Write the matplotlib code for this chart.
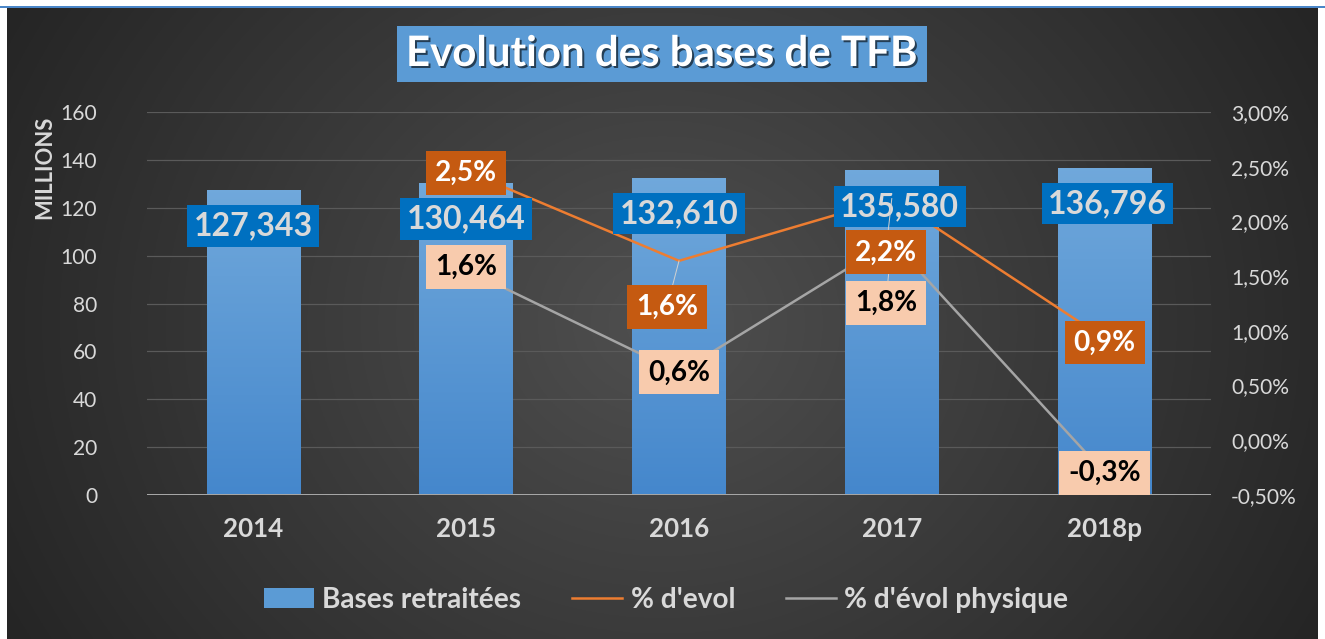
import numpy as np
import matplotlib.pyplot as plt
import matplotlib.patheffects as pe
from matplotlib.ticker import FuncFormatter, MultipleLocator
from matplotlib.patches import Patch
from matplotlib.lines import Line2D

plt.rcParams['font.family'] = ['Lato', 'DejaVu Sans']

# donnees
years = ['2014', '2015', '2016', '2017', '2018p']
bases = [127343, 130464, 132610, 135580, 136796]      # en milliers
evol = [np.nan, 2.46, 1.64, 2.21, 0.93]               # % d'evol
evol_phys = [np.nan, 1.56, 0.62, 1.82, -0.30]         # % d'evol physique

W, H = 1325, 639
fig = plt.figure(figsize=(W / 72, H / 72), dpi=72, facecolor='white')

# fond sombre en degrade radial
bg = fig.add_axes([7 / W, 0, (1318 - 7) / W, (H - 7) / H])
bg.set_axis_off()
yy, xx = np.mgrid[-1:1:320j, -1:1:660j]
r = np.sqrt(xx ** 2 + (yy * 0.55) ** 2)
c = np.clip(0.31 - 0.145 * r, 0.14, 0.35)
bg.imshow(np.dstack([c, c, c]), aspect='auto', extent=[0, 1, 0, 1])
bg.set_xlim(0, 1)
bg.set_ylim(0, 1)
fig.add_artist(Line2D([0, 1], [1 - 6.5 / H, 1 - 6.5 / H], color='#4a86c8', lw=2))

ax = fig.add_axes([147 / W, 144 / H, (1211 - 147) / W, (495 - 112) / H])
ax.set_facecolor('none')
ax2 = ax.twinx()

x = np.arange(len(years))
vals = np.array(bases) / 1000
bars = ax.bar(x, vals, width=0.44, color='#5b9bd5', zorder=2)

# degrade sur les barres
grad = np.linspace(0, 1, 256).reshape(-1, 1)
top = np.array([0.44, 0.66, 0.86])
bot = np.array([0.27, 0.53, 0.80])
img = bot + (top - bot) * grad[..., None]
for b in bars:
    im = ax.imshow(img.reshape(256, 1, 3), extent=[b.get_x(), b.get_x() + b.get_width(), 0, b.get_height()],
                   aspect='auto', origin='lower', zorder=2)
    im.set_clip_path(b)

ax.set_xlim(-0.5, len(years) - 0.5)
ax.set_ylim(0, 160)
ax.yaxis.set_major_locator(MultipleLocator(20))
ax.grid(axis='y', color='#5a5a5a', lw=1.2, zorder=0)
ax.set_axisbelow(True)
for s in ax.spines.values():
    s.set_visible(False)
for s in ax2.spines.values():
    s.set_visible(False)
ax.axhline(0, color='#a6a6a6', lw=2, zorder=3)

ax.set_xticks(x)
ax.set_xticklabels(years, fontsize=26, fontweight='bold', color='#d9d9d9')
ax.tick_params(axis='x', length=0, pad=22)
ax.tick_params(axis='y', length=0, pad=50, labelsize=21, labelcolor='#d9d9d9')
ax.set_ylabel('MILLIONS', fontsize=22, fontweight='bold', color='#d9d9d9')
ax.yaxis.set_label_coords(-0.086, 0.855)

ax2.set_ylim(-0.5, 3.0)
ax2.yaxis.set_major_locator(MultipleLocator(0.5))
ax2.yaxis.set_major_formatter(FuncFormatter(lambda v, p: f"{v:.2f}%".replace('.', ',')))
ax2.tick_params(axis='y', length=0, pad=20, labelsize=21, labelcolor='#d9d9d9')

ax2.plot(x, evol, color='#ed7d31', lw=2.5, zorder=3)
ax2.plot(x, evol_phys, color='#a5a5a5', lw=2.5, zorder=3)

# etiquettes des barres
bar_dx = [0, 0, 0, 8, 3]
for i, v in enumerate(bases):
    ax2.annotate(f"{v:,}", xy=(x[i], vals[i]), xycoords=ax.transData,
                 xytext=(bar_dx[i], -36), textcoords='offset points',
                 ha='center', va='center', fontsize=32, fontweight='bold', color='#d9d9d9',
                 bbox=dict(boxstyle='square,pad=0.2', fc='#0070c0', ec='none'), zorder=6)

# etiquettes des pourcentages
lead = dict(arrowstyle='-', color='#d0d0d0', lw=1, shrinkA=0, shrinkB=0)
evol_off = [None, (0, -2), (-12, -46), (-6, -54), (0, -4)]
phys_off = [None, (0, 3), (0, 0), (-6, -62), (0, 0)]
for i in range(1, len(years)):
    dx, dy = evol_off[i]
    ax2.annotate(f"{evol[i]:.1f}%".replace('.', ','), xy=(x[i], evol[i]),
                 xytext=(dx, dy), textcoords='offset points', ha='center', va='center',
                 fontsize=28, fontweight='bold', color='white',
                 bbox=dict(boxstyle='square,pad=0.32', fc='#c55a11', ec='none'),
                 arrowprops=lead if abs(dy) > 20 else None, zorder=5 if i == 1 else 7)
    dx, dy = phys_off[i]
    ax2.annotate(f"{evol_phys[i]:.1f}%".replace('.', ','), xy=(x[i], evol_phys[i]),
                 xytext=(dx, dy), textcoords='offset points', ha='center', va='center',
                 fontsize=28, fontweight='bold', color='black',
                 bbox=dict(boxstyle='square,pad=0.32', fc='#f8cbad', ec='none'),
                 arrowprops=lead if abs(dy) > 20 else None, zorder=5)

# titre
fig.text(662 / W, 1 - 54 / H, 'Evolution des bases de TFB', ha='center', va='center',
         fontsize=42, fontweight='bold', color='white',
         bbox=dict(boxstyle='square,pad=0.22', fc='#5b9bd5', ec='none'),
         path_effects=[pe.SimplePatchShadow(offset=(2, -2), shadow_rgbFace='black', alpha=0.6), pe.Normal()])

handles = [Patch(facecolor='#5b9bd5', edgecolor='none'),
           Line2D([], [], color='#ed7d31', lw=2.5),
           Line2D([], [], color='#a5a5a5', lw=2.5)]
leg = fig.legend(handles, ['Bases retraitées', "% d'evol", "% d'évol physique"],
                 loc='center', bbox_to_anchor=(666 / W, 39 / H), ncol=3, frameon=False,
                 fontsize=28, handlelength=1.8, handletextpad=0.3, columnspacing=1.8)
for t in leg.get_texts():
    t.set_color('#d9d9d9')
    t.set_fontweight('bold')

fig.savefig('out.png', dpi=72, facecolor='white')
